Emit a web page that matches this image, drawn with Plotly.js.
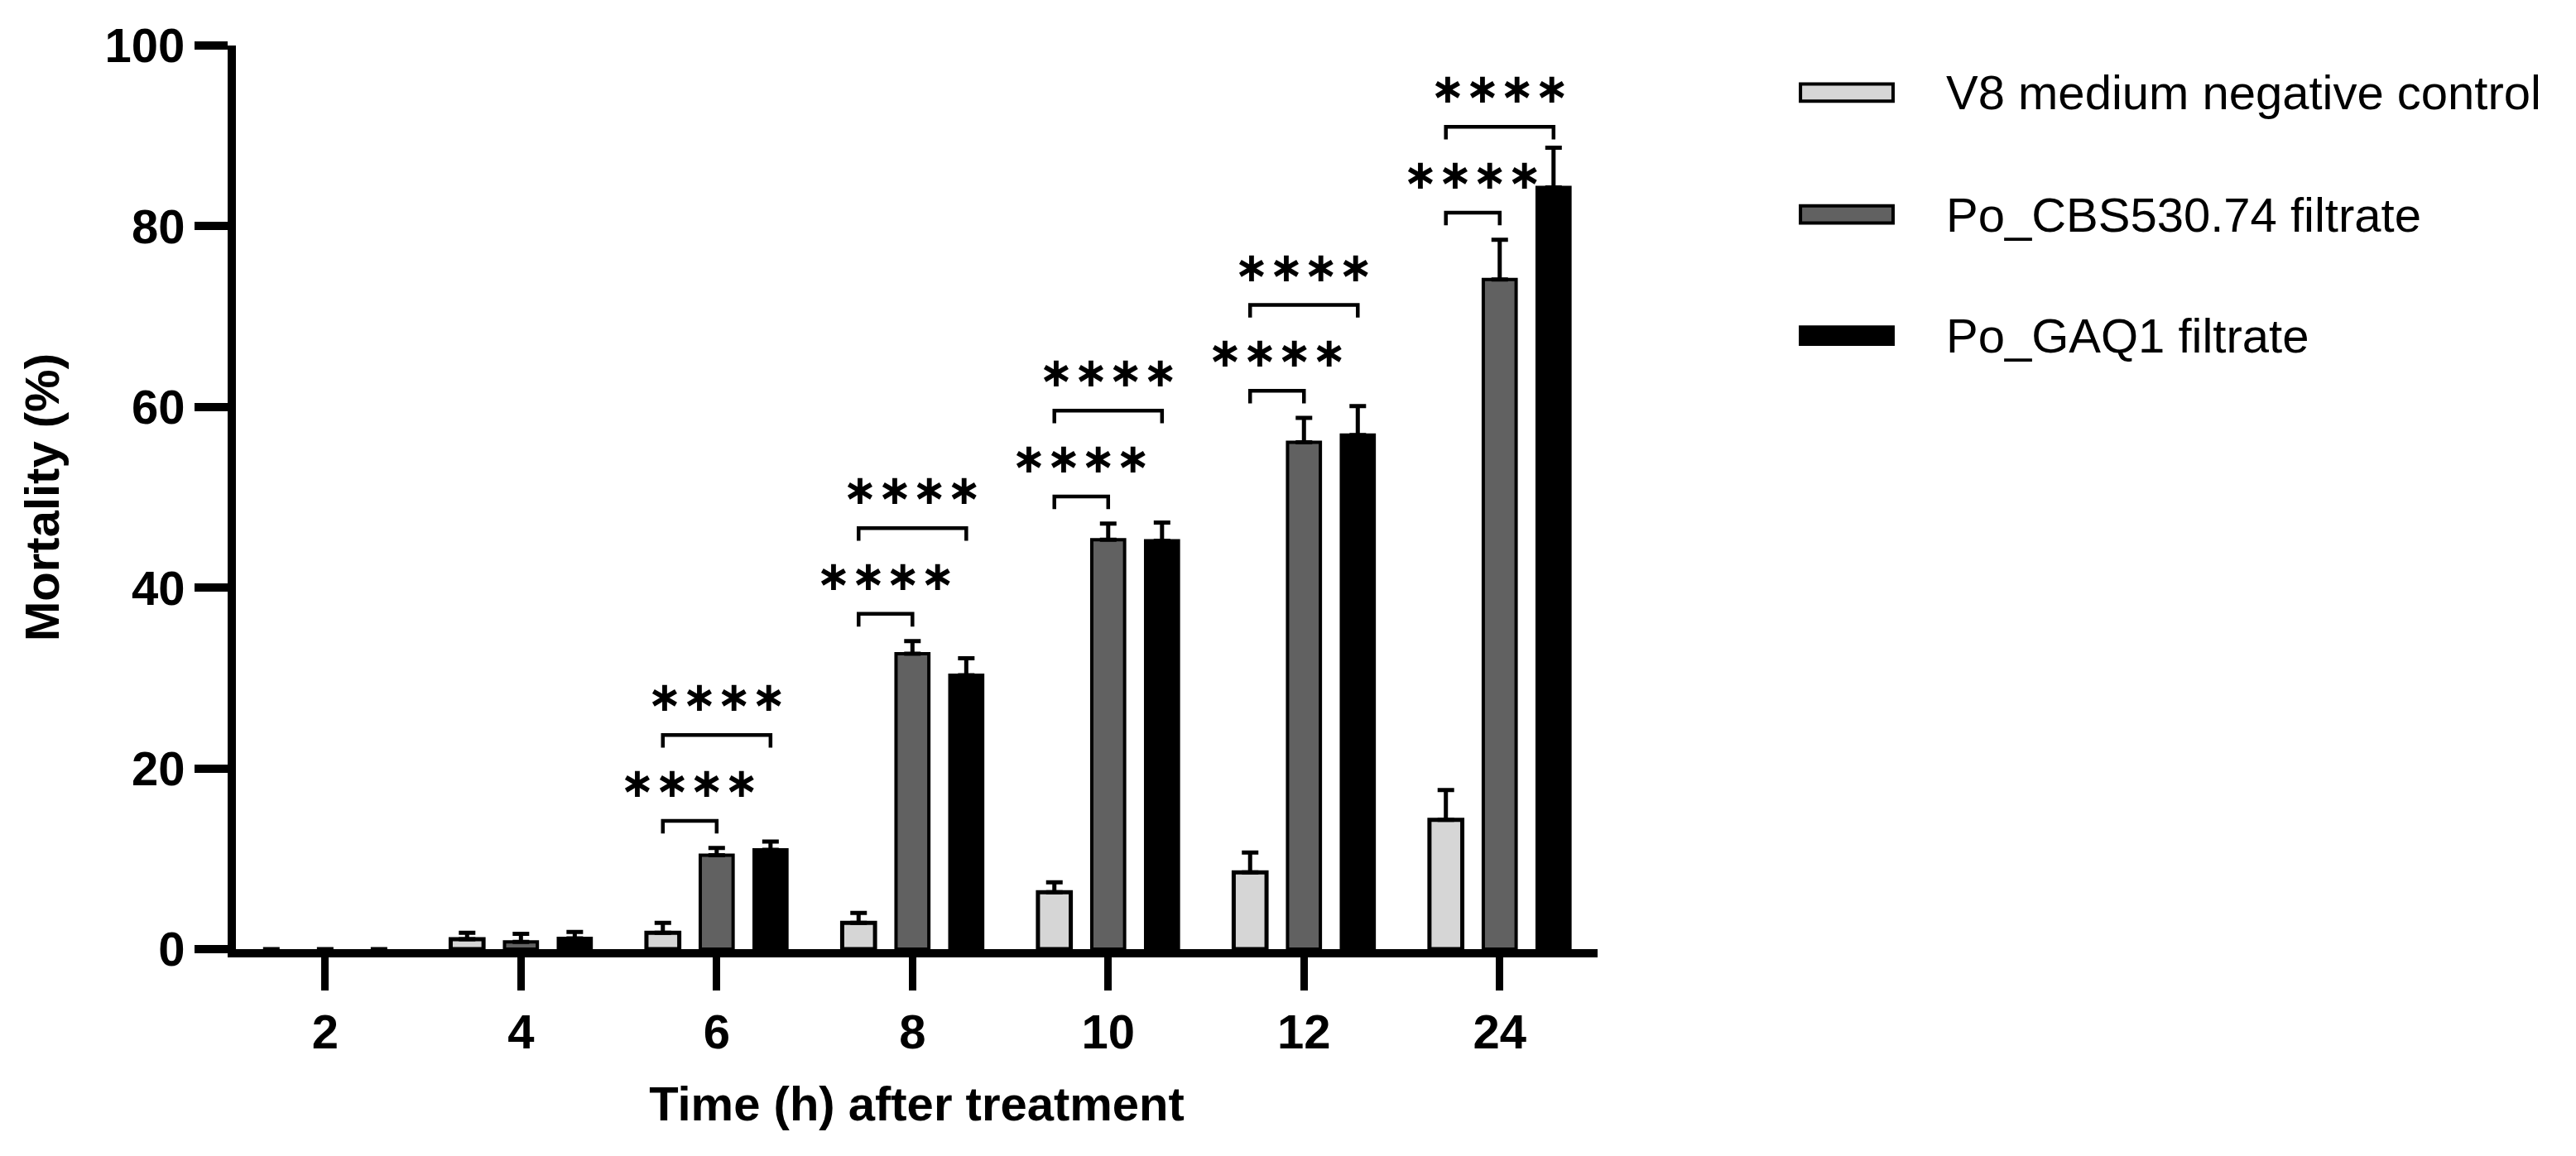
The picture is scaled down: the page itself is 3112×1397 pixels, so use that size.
<!DOCTYPE html>
<html>
<head>
<meta charset="utf-8">
<script src="https://cdn.plot.ly/plotly-3.0.1.min.js"></script>
<style>html,body{margin:0;padding:0;background:#fff;}#chart{width:3112px;height:1397px;}</style>
</head>
<body>
<div id="chart"></div>
<script>
// ---- data ----
const categories = ['2', '4', '6', '8', '10', '12', '24'];
const seriesNames = ['V8 medium negative control', 'Po_CBS530.74 filtrate', 'Po_GAQ1 filtrate'];
const controlMean = [0, 1.1, 1.8, 2.9, 6.3, 8.5, 14.3];
const controlErr  = [0, 0.7, 1.1, 1.1, 1.1, 2.2, 3.3];
const cbsMean     = [0, 0.8, 10.4, 32.7, 45.3, 56.1, 74.1];
const cbsErr      = [0, 0.9, 0.8, 1.4, 1.8, 2.7, 4.4];
const gaqMean     = [0, 1.2, 11.0, 30.3, 45.2, 56.9, 84.3];
const gaqErr      = [0, 0.7, 0.9, 1.9, 2.0, 3.2, 4.4];
const sigControlVsCbs = ['', '', '****', '****', '****', '****', '****'];
const sigControlVsGaq = ['', '', '****', '****', '****', '****', '****'];
const yTicks = [0, 20, 40, 60, 80, 100];

// ---- styling ----
const FONT = 'Liberation Sans, Arial, sans-serif';
const STAR_FONT = 'DejaVu Sans, sans-serif';
const BARGAP = 0.175, GROUPGAP = 0.39;
const colors = ['#d6d6d6', '#616161', '#000000'];
const lineW = [5, 4, 4];
const idx = categories.map((c, i) => i);
const means = [controlMean, cbsMean, gaqMean];
const errs = [controlErr, cbsErr, gaqErr];

const traces = means.map((m, k) => ({
  type: 'bar',
  name: seriesNames[k],
  x: idx,
  y: m,
  marker: { color: colors[k], opacity: m.map(v => v > 0 ? 1 : 0),
            line: { color: '#000', width: m.map(v => v > 0 ? lineW[k] : 0) } },
  error_y: { type: 'data', symmetric: false,
             array: errs[k].map((e, i) => m[i] > 0 ? e : null),
             arrayminus: m.map(v => v > 0 ? 0 : null),
             color: '#000', thickness: 5, width: 10, visible: true },
  showlegend: false,
  hoverinfo: 'skip'
}));

// significance marks: "****" drawn with a six-spoke asterisk glyph
const starText = s => s.replace(/\*/g, '\u2217');

const slot = (1 - BARGAP) / 3;
const shapes = [];
const annotations = [];
const LEG = 1.4, STAR = 4.2, GAP = 3, STEP = 9.5;
idx.forEach(i => {
  const xc = i - slot, xd = i, xb = i + slot;
  if (!sigControlVsCbs[i] && !sigControlVsGaq[i]) return;
  const low = Math.max(controlMean[i] + controlErr[i], cbsMean[i] + cbsErr[i]) + GAP;
  const high = low + STEP;
  const add = (x0, x1, y, txt) => {
    shapes.push({ type: 'path', xref: 'x', yref: 'y',
      path: `M${x0},${y - LEG} L${x0},${y} L${x1},${y} L${x1},${y - LEG}`,
      line: { color: '#000', width: 4.5 } });
    annotations.push({ x: (x0 + x1) / 2, y: y + STAR, xref: 'x', yref: 'y', text: starText(txt),
      showarrow: false, xanchor: 'center', yanchor: 'middle', yshift: 0,
      font: { family: STAR_FONT, size: 50, weight: 'bold', color: '#000' } });
  };
  if (sigControlVsCbs[i]) add(xc, xd, low, sigControlVsCbs[i]);
  if (sigControlVsGaq[i]) add(xc, xb, high, sigControlVsGaq[i]);
});

// manual legend (wide rectangles like the reference)
const legRowsY = [0.948, 0.813, 0.679];
seriesNames.forEach((n, k) => {
  shapes.push({ type: 'rect', xref: 'paper', yref: 'paper',
    x0: 1.149, x1: 1.217, y0: legRowsY[k] - 0.0095, y1: legRowsY[k] + 0.0095,
    fillcolor: colors[k], line: { color: '#000', width: 4 } });
  annotations.push({ xref: 'paper', yref: 'paper', x: 1.255, y: legRowsY[k],
    xanchor: 'left', yanchor: 'middle', text: n, showarrow: false,
    font: { family: FONT, size: 58, color: '#000' } });
});

const layout = {
  width: 3112, height: 1397,
  margin: { l: 285, r: 1182, t: 55, b: 250, pad: 0 },
  paper_bgcolor: '#fff', plot_bgcolor: '#fff',
  font: { family: FONT, color: '#000' },
  barmode: 'group', bargap: BARGAP, bargroupgap: GROUPGAP,
  showlegend: false,
  xaxis: {
    type: 'linear', range: [-0.456, 6.5], tickvals: idx, ticktext: categories,
    showline: true, linecolor: '#000', linewidth: 10, showgrid: false, zeroline: false,
    ticks: 'outside', ticklen: 40, tickwidth: 9, tickcolor: '#000',
    tickfont: { family: FONT, size: 58, weight: 'bold', color: '#000' },
    title: { text: 'Time (h) after treatment', standoff: 40,
             font: { family: FONT, size: 58, weight: 'bold', color: '#000' } },
    fixedrange: true
  },
  yaxis: {
    range: [0, 100], tickvals: yTicks,
    showline: true, linecolor: '#000', linewidth: 10, showgrid: false, zeroline: false,
    ticks: 'outside', ticklen: 40, tickwidth: 10, tickcolor: '#000',
    tickfont: { family: FONT, size: 58, weight: 'bold', color: '#000' },
    title: { text: 'Mortality (%)', standoff: 40,
             font: { family: FONT, size: 58, weight: 'bold', color: '#000' } },
    fixedrange: true
  },
  shapes: shapes,
  annotations: annotations
};

Plotly.newPlot('chart', traces, layout, { staticPlot: true, displayModeBar: false });
</script>
</body>
</html>
